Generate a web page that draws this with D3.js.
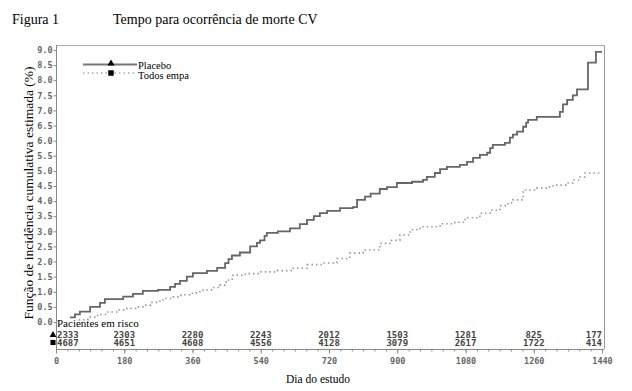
<!DOCTYPE html>
<html><head><meta charset="utf-8">
<script src="https://cdn.jsdelivr.net/npm/d3@7"></script>
<style>body{margin:0;background:#fff}svg{display:block}</style>
</head><body><svg id="c" width="632" height="391"></svg>
<script>
// ---- data ----
const placeboDays = [37,50,63,90,116,129,177,203,229,269,301,314,327,345,361,398,425,446,455,464,485,512,530,538,550,556,585,617,643,662,680,696,715,749,783,794,815,830,854,873,899,939,968,978,999,1013,1031,1065,1084,1100,1118,1137,1145,1152,1184,1197,1205,1216,1232,1240,1245,1268,1329,1337,1348,1363,1374,1403,1424,1440];
const placeboPct  = [0.15,0.25,0.34,0.5,0.63,0.76,0.84,0.93,1.03,1.06,1.16,1.26,1.36,1.5,1.62,1.69,1.79,1.95,2.08,2.2,2.3,2.5,2.62,2.7,2.85,2.95,3.0,3.1,3.24,3.38,3.5,3.6,3.68,3.77,3.8,4.04,4.15,4.25,4.4,4.46,4.6,4.64,4.7,4.8,4.93,5.06,5.13,5.2,5.3,5.43,5.53,5.6,5.75,5.86,5.93,6.1,6.2,6.3,6.46,6.6,6.69,6.79,6.95,7.2,7.35,7.5,7.7,8.58,8.94,8.94];
const empaDays = [60,84,110,134,160,187,210,229,250,274,290,309,330,353,370,388,410,432,445,455,467,490,504,538,583,625,662,704,741,775,810,854,881,907,934,960,1013,1052,1079,1118,1145,1171,1192,1205,1232,1268,1297,1311,1348,1363,1382,1395,1435];
const empaPct  = [0.07,0.16,0.25,0.33,0.4,0.45,0.5,0.56,0.65,0.73,0.78,0.83,0.9,0.95,1.0,1.06,1.14,1.22,1.32,1.42,1.55,1.58,1.6,1.66,1.7,1.78,1.9,1.95,2.1,2.28,2.38,2.6,2.7,2.88,3.05,3.15,3.25,3.3,3.45,3.6,3.7,3.85,3.94,4.04,4.37,4.43,4.47,4.53,4.6,4.7,4.8,4.93,4.93];
const riskDays = [0,180,360,540,720,900,1080,1260,1440];
const riskPlacebo = [2333,2303,2280,2243,2012,1503,1281,825,177];
const riskEmpa = [4687,4651,4608,4556,4128,3079,2617,1722,414];
const yTicks = d3.range(0, 9.01, 0.5);
const xMajor = d3.range(0, 1441, 180);
const xMinor = d3.range(0, 1441, 30);
const seriesNames = ["Placebo","Todos empa"];

// ---- drawing ----
const svg = d3.select("#c");
const x = d3.scaleLinear().domain([0,1440]).range([56,602]);
const y = d3.scaleLinear().domain([0,9]).range([322,50]);
const serif = "'Liberation Serif','Times New Roman',serif";
const mono = "'DejaVu Sans Mono',monospace";

// titles
svg.append("text").attr("x",12).attr("y",24).attr("font-family",serif).attr("font-size",14).text("Figura 1");
svg.append("text").attr("x",113).attr("y",24).attr("font-family",serif).attr("font-size",14).text("Tempo para ocorrência de morte CV");

// frame
const frame = svg.append("g").attr("fill","none");
frame.append("line").attr("x1",56).attr("x2",604).attr("y1",45.5).attr("y2",45.5).attr("stroke","#aaa");
frame.append("line").attr("x1",604.5).attr("x2",604.5).attr("y1",45).attr("y2",349).attr("stroke","#999");
frame.append("line").attr("x1",56.5).attr("x2",56.5).attr("y1",45).attr("y2",349).attr("stroke","#888");
frame.append("line").attr("x1",56).attr("x2",604).attr("y1",349.5).attr("y2",349.5).attr("stroke","#888");

// y axis
const yAxis = d3.axisLeft(y).tickValues(yTicks).tickSize(3).tickFormat(d3.format(".1f"));
const gy = svg.append("g").attr("transform","translate(56.5,0)").call(yAxis);
gy.select(".domain").remove();
gy.selectAll(".tick line").attr("stroke","#888");
gy.selectAll(".tick text").attr("font-family",mono).attr("font-size",8.5).attr("font-weight","bold").attr("fill","#666").attr("x",-4);

// x axis
const gxm = svg.append("g").attr("transform","translate(0,349.5)")
  .call(d3.axisBottom(x).tickValues(xMinor).tickSize(2).tickFormat(""));
gxm.select(".domain").remove();
gxm.selectAll(".tick line").attr("stroke","#888");
const gx = svg.append("g").attr("transform","translate(0,349.5)")
  .call(d3.axisBottom(x).tickValues(xMajor).tickSize(4).tickFormat(d3.format("d")));
gx.select(".domain").remove();
gx.selectAll(".tick line").attr("stroke","#888");
gx.selectAll(".tick text").attr("font-family",mono).attr("font-size",8.5).attr("font-weight","bold").attr("fill","#666").attr("y",8);

svg.append("text").attr("x",318).attr("y",383).attr("text-anchor","middle").attr("font-family",serif).attr("font-size",11.5).text("Dia do estudo");
svg.append("text").attr("transform","translate(33,193) rotate(-90)").attr("text-anchor","middle").attr("font-family",serif).attr("font-size",13.5).text("Função de incidência cumulativa estimada (%)");

// curves
const line = d3.line().x(d=>x(d[0])).y(d=>y(d[1])).curve(d3.curveStepAfter);
svg.append("path").datum(empaDays.map((d,i)=>[d,empaPct[i]])).attr("d",line)
  .attr("fill","none").attr("stroke","#999").attr("stroke-width",1.6).attr("stroke-dasharray","1.5,3");
svg.append("path").datum(placeboDays.map((d,i)=>[d,placeboPct[i]])).attr("d",line)
  .attr("fill","none").attr("stroke","#666").attr("stroke-width",1.8);

// legend
const lg = svg.append("g");
lg.append("line").attr("x1",83).attr("x2",137).attr("y1",64.5).attr("y2",64.5).attr("stroke","#777").attr("stroke-width",2);
lg.append("line").attr("x1",83).attr("x2",137).attr("y1",73).attr("y2",73).attr("stroke","#aaa").attr("stroke-width",1.5).attr("stroke-dasharray","1.5,3");
lg.append("path").attr("d",d3.symbol(d3.symbolTriangle,22)()).attr("transform","translate(111,63.5)").attr("fill","#000");
lg.append("path").attr("d",d3.symbol(d3.symbolSquare,30)()).attr("transform","translate(111,73)").attr("fill","#000");
lg.append("text").attr("x",138).attr("y",68.5).attr("font-family",serif).attr("font-size",10.5).text(seriesNames[0]);
lg.append("text").attr("x",138).attr("y",79).attr("font-family",serif).attr("font-size",10.5).text(seriesNames[1]);

// at-risk table
svg.append("text").attr("x",57).attr("y",327).attr("font-family",serif).attr("font-size",11).text("Pacientes em risco");
function anchorFor(i){ return i===0 ? "start" : (i===riskDays.length-1 ? "end" : "middle"); }
function xFor(i){ return i===0 ? x(riskDays[i])+1 : x(riskDays[i]); }
[riskPlacebo, riskEmpa].forEach((row,r)=>{
  svg.append("g").selectAll("text").data(row).join("text")
    .attr("x",(d,i)=>xFor(i)).attr("y",r===0?337.5:346)
    .attr("text-anchor",(d,i)=>anchorFor(i))
    .attr("font-family",mono).attr("font-size",9).attr("font-weight","bold").attr("fill","#444")
    .text(d=>d);
});
svg.append("path").attr("d",d3.symbol(d3.symbolTriangle,20)()).attr("transform","translate(53,335)").attr("fill","#000");
svg.append("path").attr("d",d3.symbol(d3.symbolSquare,26)()).attr("transform","translate(53,342.5)").attr("fill","#000");
</script></body></html>
